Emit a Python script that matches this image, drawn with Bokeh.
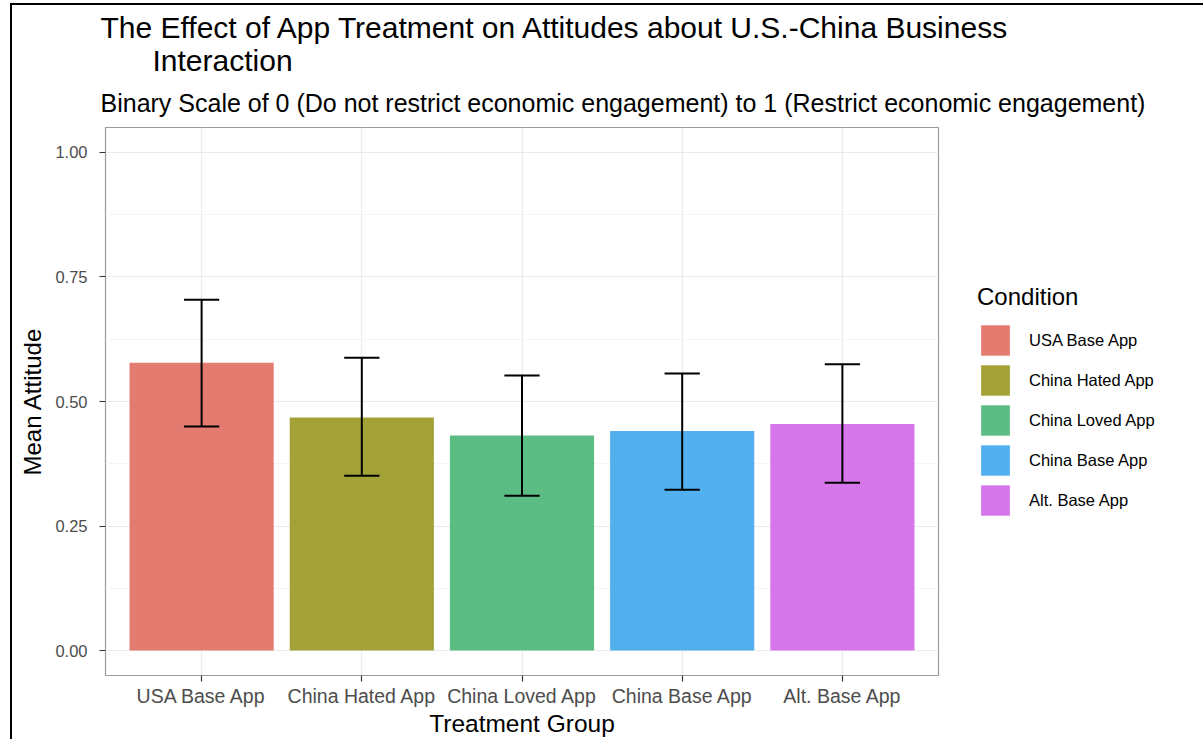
from bokeh.plotting import figure
from bokeh.models import (ColumnDataSource, FixedTicker, Legend, LegendItem, Title, Range1d)
from bokeh.embed import file_html
from bokeh.resources import INLINE

# ---- data ----
conditions = ["USA Base App", "China Hated App", "China Loved App", "China Base App", "Alt. Base App"]
mean_attitude = [0.578, 0.468, 0.432, 0.441, 0.455]
ci_lower = [0.450, 0.351, 0.311, 0.323, 0.337]
ci_upper = [0.704, 0.588, 0.552, 0.556, 0.575]
colors = ["#E37B71", "#A3A236", "#5BBD84", "#53B0EF", "#D577EA"]
y_ticks = [0.0, 0.25, 0.5, 0.75, 1.0]
y_tick_labels = ["0.00", "0.25", "0.50", "0.75", "1.00"]
y_minor = [0.125, 0.375, 0.625, 0.875]

xpos = list(range(1, len(conditions) + 1))
bar_w = 0.9
cap_w = 0.22

src = ColumnDataSource(dict(
    x=xpos, top=mean_attitude, lo=ci_lower, hi=ci_upper, color=colors, cond=conditions,
    cl=[x - cap_w / 2 for x in xpos], cr=[x + cap_w / 2 for x in xpos],
))

FONT = "Liberation Sans"

p = figure(frame_width=833, frame_height=548,
           x_range=Range1d(0.4, 5.6), y_range=Range1d(-0.05, 1.05),
           output_backend="svg", toolbar_location=None, title=None,
           min_border_left=105, min_border_right=240, min_border_top=127, min_border_bottom=58)
p.background_fill_color = "white"
p.border_fill_alpha = 0
p.styles = {"background-color": "white",
            "box-shadow": "inset 10px 3px 0 0 white, inset 12px 5px 0 0 black"}
p.outline_line_color = "#9a9a9a"
p.outline_line_width = 1.2

bars = p.vbar(x="x", top="top", bottom=0, width=bar_w, fill_color="color", line_color=None, source=src)
p.segment(x0="x", x1="x", y0="lo", y1="hi", line_color="black", line_width=2, source=src)
p.segment(x0="cl", x1="cr", y0="hi", y1="hi", line_color="black", line_width=2, source=src)
p.segment(x0="cl", x1="cr", y0="lo", y1="lo", line_color="black", line_width=2, source=src)

# axes
p.xaxis.ticker = FixedTicker(ticks=xpos)
p.xaxis.major_label_overrides = {x: c for x, c in zip(xpos, conditions)}
p.yaxis.ticker = FixedTicker(ticks=y_ticks, minor_ticks=y_minor)
p.yaxis.major_label_overrides = {t: l for t, l in zip(y_ticks, y_tick_labels)}

for ax in (p.xaxis[0], p.yaxis[0]):
    ax.axis_line_color = None
    ax.major_tick_line_color = "#333333"
    ax.major_tick_line_width = 1.2
    ax.major_tick_out = 6
    ax.major_tick_in = 0
    ax.minor_tick_line_color = None
    ax.major_label_text_color = "#4D4D4D"
    ax.major_label_text_font = FONT
    ax.axis_label_text_font = FONT
    ax.axis_label_text_font_style = "normal"
    ax.axis_label_text_color = "black"

p.xaxis.major_label_text_font_size = "19.5px"
p.yaxis.major_label_text_font_size = "16.5px"
p.xaxis.axis_label_text_font_size = "24.5px"
p.yaxis.axis_label_text_font_size = "24px"
p.xaxis.axis_label = "Treatment Group"
p.yaxis.axis_label = "Mean Attitude"
p.xaxis.major_label_standoff = 3
p.yaxis.major_label_standoff = 12
p.xaxis.axis_label_standoff = 0
p.yaxis.axis_label_standoff = 6

p.xgrid.ticker = FixedTicker(ticks=xpos)
p.xgrid.grid_line_color = "#EBEBEB"
p.xgrid.grid_line_width = 1.2
p.ygrid.ticker = FixedTicker(ticks=y_ticks, minor_ticks=y_minor)
p.ygrid.grid_line_color = "#EBEBEB"
p.ygrid.grid_line_width = 1.2
p.ygrid.minor_grid_line_color = "#F4F4F4"
p.ygrid.minor_grid_line_width = 1

# titles (later added = further out)
p.add_layout(Title(text="Binary Scale of 0 (Do not restrict economic engagement) to 1 (Restrict economic engagement)",
                   text_font=FONT, text_font_size="25px", text_font_style="normal", text_color="black",
                   align="left", offset=-5, standoff=22), "above")
p.add_layout(Title(text="Interaction", text_font=FONT, text_font_size="30px", text_font_style="normal",
                   text_color="black", align="left", offset=47, standoff=-2), "above")
p.add_layout(Title(text="The Effect of App Treatment on Attitudes about U.S.-China Business",
                   text_font=FONT, text_font_size="30px", text_font_style="normal", text_color="black",
                   align="left", offset=-5, standoff=-3), "above")

# legend
items = [LegendItem(label=c, renderers=[bars], index=i) for i, c in enumerate(conditions)]
legend = Legend(items=items, location="center_left", title="Condition",
                title_text_font=FONT, title_text_font_size="24px", title_text_font_style="normal",
                title_text_color="black", title_standoff=10,
                label_text_font=FONT, label_text_font_size="16.5px", label_text_color="black",
                glyph_width=36, glyph_height=38, label_height=38, label_standoff=16,
                spacing=2, padding=0, margin=39, border_line_color=None, background_fill_alpha=0)
p.add_layout(legend, "right")

open("out.html", "w").write(file_html(p, INLINE))
